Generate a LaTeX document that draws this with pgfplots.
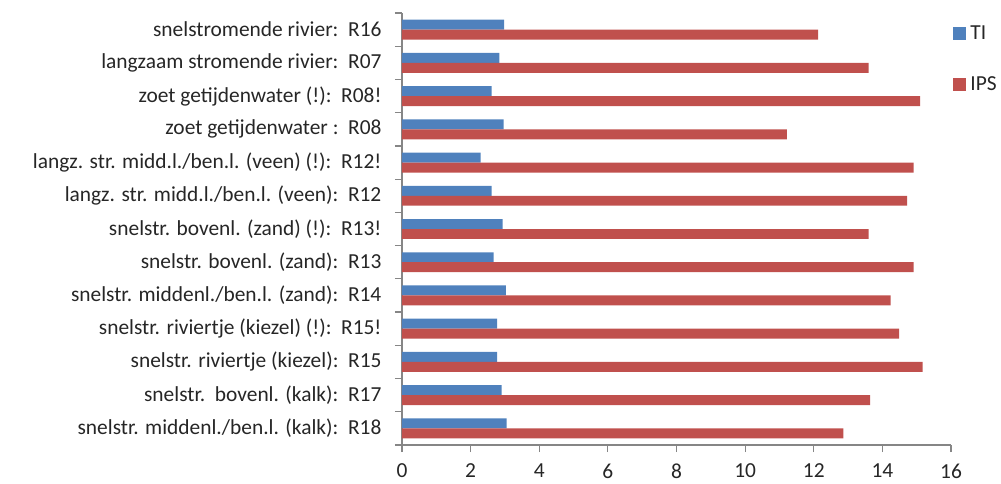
\documentclass[border=0pt]{standalone}
\usepackage{fontspec}
\setmainfont{Carlito}
\usepackage{pgfplots}
\pgfplotsset{compat=1.18}
\definecolor{tiblue}{HTML}{4F81BD}
\definecolor{ipsred}{HTML}{C0504D}
\definecolor{axisgray}{HTML}{868686}

\begin{document}
\begin{tikzpicture}
\fontsize{10.7}{12}\selectfont
\useasboundingbox (-201pt,-19pt) rectangle (299.5pt,222.5pt);
\begin{axis}[
    at={(0,0)}, anchor=south west,
    scale only axis,
    width=274.5pt, height=216pt,
    xbar,
    bar width=0.3,
    xmin=0, xmax=16,
    ymin=-0.5, ymax=12.5,
    xtick={0,2,...,16},
    ytick={-0.5,0.5,...,12.5},
    yticklabels={
        {snelstr. middenl./ben.l. (kalk):\ \ R18},
        {snelstr.\ \ bovenl. (kalk):\ \ R17},
        {snelstr. riviertje (kiezel):\ \ R15},
        {snelstr. riviertje (kiezel) (!):\ \ R15!},
        {snelstr. middenl./ben.l. (zand):\ \ R14},
        {snelstr. bovenl. (zand):\ \ R13},
        {snelstr. bovenl. (zand) (!):\ \ R13!},
        {langz. str. midd.l./ben.l. (veen):\ \ R12},
        {langz. str. midd.l./ben.l. (veen) (!):\ \ R12!},
        {zoet getijdenwater :\ \ R08},
        {zoet getijdenwater (!):\ \ R08!},
        {langzaam stromende rivier:\ \ R07},
        {snelstromende rivier:\ \ R16},
        {}},
    yticklabel style={yshift=8.31pt, xshift=-3pt, font=\fontsize{10.7}{12}\selectfont, text=black!85},
    xticklabel style={yshift=-5.3pt, inner sep=0.5pt, font=\fontsize{10.7}{12}\selectfont, text=black!85},
    /pgf/number format/assume math mode=true,
    axis lines*=left,
    axis line style={axisgray, line width=0.6pt},
    tick style={axisgray, line width=0.6pt},
    tick align=outside,
    major tick length=3.5pt,
    legend style={at={(rel axis cs:1,1)}, anchor=north west, xshift=-2pt, yshift=-2pt,
        draw=none, fill=none, font=\fontsize{10.7}{12}\selectfont, row sep=13pt,
        text=black!85},
    legend cell align=left,
    legend image code/.code={\fill (0pt,-3.25pt) rectangle (6.5pt,3.25pt);},
]
\addplot[fill=tiblue, draw=none, bar shift=0.15] coordinates {
    (3.05,0) (2.90,1) (2.77,2) (2.77,3) (3.03,4) (2.67,5) (2.93,6)
    (2.61,7) (2.29,8) (2.96,9) (2.61,10) (2.84,11) (2.98,12)
};
\addplot[fill=ipsred, draw=none, bar shift=-0.15] coordinates {
    (12.86,0) (13.64,1) (15.17,2) (14.49,3) (14.24,4) (14.91,5) (13.60,6)
    (14.72,7) (14.91,8) (11.22,9) (15.10,10) (13.60,11) (12.13,12)
};
\legend{TI, IPS}
\end{axis}
\end{tikzpicture}
\end{document}
